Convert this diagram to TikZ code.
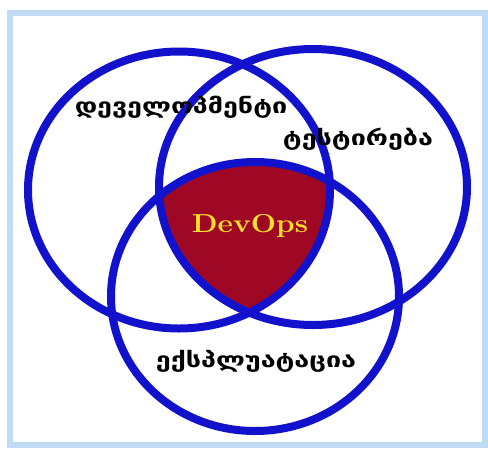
\documentclass[tikz,border=0pt]{standalone}
\usepackage{fontspec}
\newfontfamily\geo{DejaVu Sans}
\definecolor{ringblue}{RGB}{18,18,205}
\definecolor{corered}{RGB}{158,8,36}
\definecolor{coretext}{RGB}{255,224,40}
\definecolor{frameblue}{RGB}{192,220,244}
\begin{document}
\begin{tikzpicture}[x=1pt,y=-1pt,
  ring/.style={draw=ringblue, line width=8pt},
  setlabel/.style={font=\geo\bfseries\fontsize{21}{24}\selectfont, inner sep=0pt, text=black, xscale=1.28},
  corelabel/.style={font=\bfseries\fontsize{26}{30}\selectfont, inner sep=0pt, text=coretext, xscale=1.15}]
  \useasboundingbox (0,0) rectangle (488,448);
  \fill[white] (0,0) rectangle (488,448);
  % outer frame
  \draw[frameblue, line width=6pt] (9.5,13) rectangle (485,445);
  % centres of the three sets
  \coordinate (dev) at (179,190);
  \coordinate (test) at (313,187);
  \coordinate (ops) at (255,296.5);
  % common part of all three sets
  \begin{scope}
    \clip (dev) ellipse [x radius=151, y radius=138.5];
    \clip (test) ellipse [x radius=154, y radius=138];
    \fill[corered] (ops) ellipse [x radius=144, y radius=134.5];
  \end{scope}
  % set outlines
  \draw[ring] (dev) ellipse [x radius=151, y radius=138.5];
  \draw[ring] (test) ellipse [x radius=154, y radius=138];
  \draw[ring] (ops) ellipse [x radius=144, y radius=134.5];
  % labels
  \node[setlabel] (devlbl) at (181,107) {დეველოპმენტი};
  \node[setlabel] (testlbl) at (358,139) {ტესტირება};
  \node[setlabel] (opslbl) at (256,361) {ექსპლუატაცია};
  \node[corelabel] (core) at (250,226) {DevOps};
\end{tikzpicture}
\end{document}
